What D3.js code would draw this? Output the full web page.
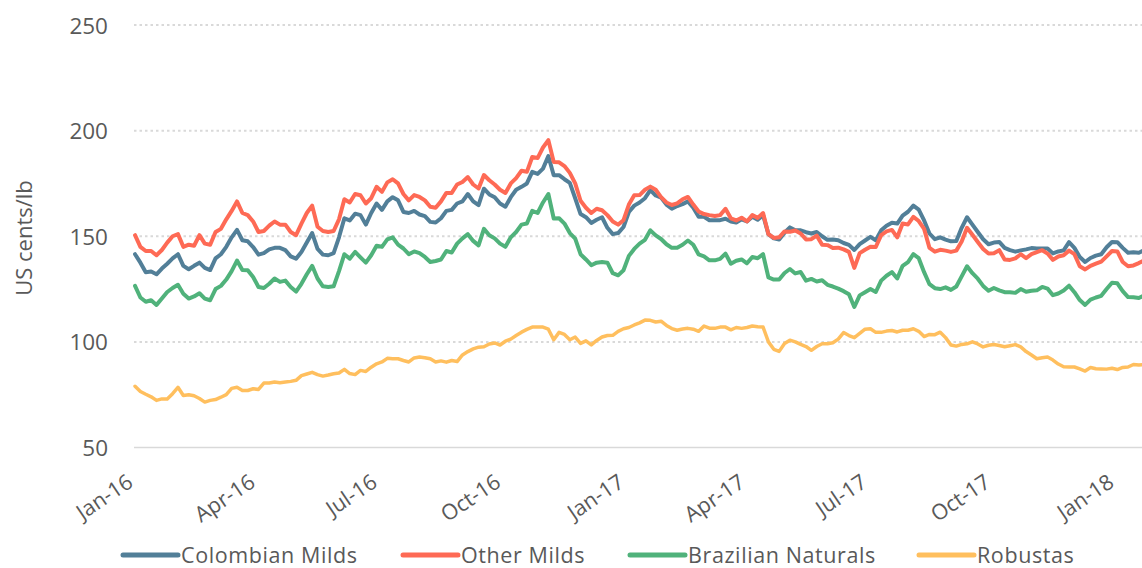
<!DOCTYPE html>
<html>
<head>
<meta charset="utf-8">
<script src="https://cdn.jsdelivr.net/npm/d3@7"></script>
<style>
  body { margin: 0; background: #fff; }
  svg { display: block; font-family: "Open Sans", sans-serif; }
</style>
</head>
<body>
<div id="chart"></div>
<script>
// ICO group indicator prices, sampled every 4 days from 4 Jan 2016
var startDate = "2016-01-04";
var stepDays = 4;

var colombianMilds = [
    141.5,137.5,133,133.3,132,134.7,137,139.5,141.5,136,134.4,136,137.5,135,134,139.5,141.5,145,149.5,153,
    148.1,147.6,144.9,141.3,142,143.8,144.5,144.5,143.4,140.5,139.4,142.5,147,151.5,144,141.3,141,142,
    149.5,158.5,157.5,160.7,160,155.5,161,165.5,162.5,166.5,168.5,167,161.5,161,162,160.3,159.5,156.8,156.5,158.5,
    162,162.5,165.5,166.5,170,166.5,164.7,172.5,169.8,168.5,165.5,164,168.5,172,173.4,175,180.5,
    179.5,182,188,178.9,178.9,177,175.3,168,160.5,159,156.3,157.8,159,154,151,151.5,154.4,161.5,164.5,166,
    168,171.8,169.3,168.3,165,163,164.3,165.2,166.5,163.5,159.2,159.2,157.6,157.6,157.6,158.3,157,156.5,
    158,157,159.2,157.8,160,151,149,148.5,151.7,154.2,152.8,152.8,151.9,151.3,152,150,148.3,148.5,148.1,146.8,
    145.9,143.5,146.3,148,149.7,148.1,152.8,155,156.4,156,159.8,161.6,164.5,162.6,157.5,151.3,148.6,
    149.5,148.4,147.6,147.8,154,159,155.5,152,148.6,146.2,147,147.3,144.5,143.4,142.7,143.3,143.8,144.4,144.2,144.2,
    144.2,141.9,142.8,143.3,147.2,144.5,140.2,137.8,139.7,140.8,141.5,144.8,147.3,147.2,144.5,142.2,142.4,142.2,143.4
];

var otherMilds = [
    150.5,145,143,143,141,143.5,147,150,151,145,146,145.5,150.5,146.5,146,152,153.5,158,162,166.5,
    161,160,157,152,152.5,155,157,155.5,155.5,152,150.5,156,161,164.5,154.5,152.5,152,152.5,
    158,167.5,166,170,169.4,165.5,168,173.4,171,175.5,177,175,170,167,169.5,168.6,167,164,163.5,166.5,
    170.5,170.5,174.5,175.7,178,174.5,172.6,179,176.5,174.5,172,170.5,175,177.5,181,180.5,187.5,
    187,192,195.5,185.2,185,183.2,180,175,166.8,163.5,161,163,162.3,160,157,155.5,157.6,165,169.4,169.5,
    172,173.5,172,168.5,166,164.8,165.6,167.5,168.6,165,161.7,160.5,160,159.6,160,163,158.5,157.5,
    158.8,157,160,158.7,161,151,149.2,149.5,152.3,152.1,152.7,151.3,148.5,148.6,150.3,146,145.8,144.4,144.6,143.8,
    142.6,135,142,143.6,145,144.9,150.5,152.3,153,149.5,156,155.6,159.2,157.2,153.5,144.5,142.7,
    143.6,143.2,142.6,143.2,147.5,154,150.7,147.3,144,141.8,142,143.4,139,138.8,139.5,141.5,139.6,141.5,142.5,143.4,
    141.8,138.8,140.4,141,143.2,141.5,135.8,134.3,136,137,138,140.5,143,142.8,137.8,135.8,136.2,137.3,138.6
];

var brazilianNaturals = [
    126.5,121,119,119.7,117.5,120.5,123.6,125.5,127,122.8,120.5,121.5,123,120.5,119.7,125,126.5,129.5,133.5,138.5,
    134,133.9,130.7,126,125.5,127.5,130,128.4,129,126,123.8,127.5,132,136,130,126.3,126,126.3,
    133.5,141.5,139.4,142.6,140,137.5,141,145.5,145,148.5,149.5,146,144.2,141.5,142.8,142,140.2,137.8,138.3,139,
    143,142.3,146.5,149,151,147.8,145.7,153.5,150.5,149,146.5,145,149.5,152,155.5,156,162,
    161,166,170,158.4,158.5,156,151.5,148.9,141.5,139,136.3,137.5,137.8,137.5,132.5,131.5,133.9,140.7,144,146.5,
    148.3,152.8,150.4,148.7,146.2,144.5,144.6,146,148,146,141.4,140.5,138.6,138.6,139.3,141.8,137,138.4,
    139,137.2,140.2,139.6,141.5,130.5,129.5,129.5,132.6,134.5,132.4,133.1,129,129.8,128.6,129.2,127,126.2,125.2,124,
    122.5,116.5,122,123.5,125,123.6,129,131.3,133,130,136,137.8,141.5,139.6,133,127.3,125.4,
    125,125.8,124.6,126.2,131,135.8,132.5,129.9,126.5,124.2,125.5,124.4,123.5,123.5,123.2,125,123.7,124.2,124.4,126,
    125.2,122.1,122.9,124.3,126.6,123.5,119.8,117.5,120,121,121.8,125,128,127.7,124,121.2,121.1,120.8,122
];

var robustas = [
    79,76.5,75.2,74,72.3,73,73,75.5,78.5,74.6,75,74.5,73.2,71.5,72.3,72.7,73.8,75,78,78.5,
    77,77,77.8,77.5,80.5,80.5,81,80.7,81,81.3,81.8,84,84.8,85.6,84.5,83.8,84.3,84.9,
    85.3,87,85,84.5,86.5,86,88,89.6,90.5,92.2,92,92,91.2,90.5,92.4,92.8,92.5,92,90.5,91,
    90.4,91.2,90.7,93.8,95.4,96.7,97.5,97.7,99,99.5,98.5,100.3,101.3,103,104.6,105.9,107,
    107,107,106,101,104.5,103.5,101,102.3,99.3,100.5,98.6,100.7,102.3,103,103.1,105,106.2,106.8,108,109,
    110.3,110.2,109.4,109.8,107.8,106.3,105.5,106.1,106.4,106,105,107.5,106.5,106.4,107,107,105.7,106.8,
    106.4,106.8,107.5,107.2,107,100,96.5,95.5,99.2,100.8,100,98.8,97.8,96,97.8,99.1,99.1,99.6,101.3,104.4,
    103,102,104,106,106.2,104.5,104.5,105.1,105.4,104.7,105.5,105.5,106.2,105,102.5,103.5,103.4,
    104.6,102,98.5,98,98.8,99.1,100,99,97.6,98.4,98.8,98.3,97.7,98.2,98.7,97.6,95.4,93.8,92,92.5,
    92.8,91.4,89.5,88.2,88.1,88.1,87.2,86.2,87.9,87.3,87.2,87.1,87.5,86.9,87.9,88.1,89.3,89,89.2
];

var seriesNames = ["Colombian Milds", "Other Milds", "Brazilian Naturals", "Robustas"];
var seriesColors = ["#527f98", "#fe6a55", "#50b27b", "#ffbf5e"];
var seriesWidths = [4, 4, 4, 3.5];

var tickDates = ["2016-01-01", "2016-04-01", "2016-07-01", "2016-10-01", "2017-01-01",
                 "2017-04-01", "2017-07-01", "2017-10-01", "2018-01-01"];
var tickLabels = ["Jan-16", "Apr-16", "Jul-16", "Oct-16", "Jan-17", "Apr-17", "Jul-17", "Oct-17", "Jan-18"];
var yTicks = [50, 100, 150, 200, 250];

// layout
var width = 1142, height = 568;
var plotLeft = 134, plotRight = 1142, plotTop = 25, plotBottom = 447.5;
var legendX = [123, 403, 630, 919];

var parseDate = d3.utcParse("%Y-%m-%d");
var start = parseDate(startDate);

function make_points(values) {
    var pts = [];
    for (var i = 0; i < values.length; i++) {
        pts.push({ date: d3.utcDay.offset(start, i * stepDays), v: values[i] });
    }
    return pts;
}

var allSeries = [colombianMilds, otherMilds, brazilianNaturals, robustas].map(make_points);

var svg = d3.select("#chart")
    .append("svg")
    .attr("width", width)
    .attr("height", height);

var x = d3.scaleUtc()
    .domain([parseDate("2016-01-01"), parseDate("2018-01-23")])
    .range([131, 1141.5]);

var y = d3.scaleLinear()
    .domain([50, 250])
    .range([plotBottom, plotTop]);

// gridlines
svg.append("g")
    .selectAll("line")
    .data(yTicks)
    .enter()
    .append("line")
    .attr("x1", plotLeft)
    .attr("x2", plotRight)
    .attr("y1", function (d) { return y(d); })
    .attr("y2", function (d) { return y(d); })
    .attr("stroke", "#d9d9d9")
    .attr("stroke-width", function (d) { return d == 50 ? 1.5 : 2; })
    .attr("stroke-dasharray", function (d) { return d == 50 ? null : "2.5,3"; });

// y axis labels
var yAxis = svg.append("g")
    .attr("transform", "translate(" + 108 + ",0)")
    .call(d3.axisLeft(y).tickValues(yTicks).tickSize(0).tickPadding(0));
yAxis.select(".domain").remove();
yAxis.selectAll("text")
    .attr("font-family", "Open Sans")
    .attr("font-size", 22.5)
    .attr("fill", "#595959")
    .attr("dy", "0.36em");

svg.append("text")
    .attr("transform", "translate(32,238) rotate(-90)")
    .attr("text-anchor", "middle")
    .attr("font-size", 22)
    .attr("fill", "#595959")
    .text("US cents/lb");

// x axis labels
var xAxis = svg.append("g")
    .attr("transform", "translate(0," + plotBottom + ")")
    .call(d3.axisBottom(x)
        .tickValues(tickDates.map(parseDate))
        .tickSize(0)
        .tickFormat(function (d, i) { return tickLabels[i]; }));
xAxis.select(".domain").remove();
xAxis.selectAll("text")
    .attr("font-family", "Open Sans")
    .attr("font-size", 21.5)
    .attr("fill", "#595959")
    .attr("y", 0)
    .attr("dy", 0)
    .attr("text-anchor", "end")
    .attr("transform", "translate(3,38) rotate(-34)");

// lines
svg.append("clipPath")
    .attr("id", "plotclip")
    .append("rect")
    .attr("x", 0)
    .attr("y", 0)
    .attr("width", plotRight)
    .attr("height", height);

var line = d3.line()
    .x(function (d) { return x(d.date); })
    .y(function (d) { return y(d.v); });

svg.append("g")
    .attr("clip-path", "url(#plotclip)")
    .selectAll("path")
    .data(allSeries)
    .enter()
    .append("path")
    .attr("fill", "none")
    .attr("stroke", function (d, i) { return seriesColors[i]; })
    .attr("stroke-width", function (d, i) { return seriesWidths[i]; })
    .attr("stroke-linejoin", "round")
    .attr("stroke-linecap", "round")
    .attr("d", line);

// legend
var legend = svg.append("g")
    .selectAll("g")
    .data(seriesNames)
    .enter()
    .append("g")
    .attr("transform", function (d, i) { return "translate(" + legendX[i] + ",555)"; });

legend.append("line")
    .attr("x1", 0)
    .attr("x2", 55)
    .attr("stroke", function (d, i) { return seriesColors[i]; })
    .attr("stroke-width", 5)
    .attr("stroke-linecap", "round");

legend.append("text")
    .attr("x", 58)
    .attr("y", 7.5)
    .attr("font-size", 21.5)
    .attr("letter-spacing", 0.6)
    .attr("fill", "#595959")
    .text(function (d) { return d; });
</script>
</body>
</html>
